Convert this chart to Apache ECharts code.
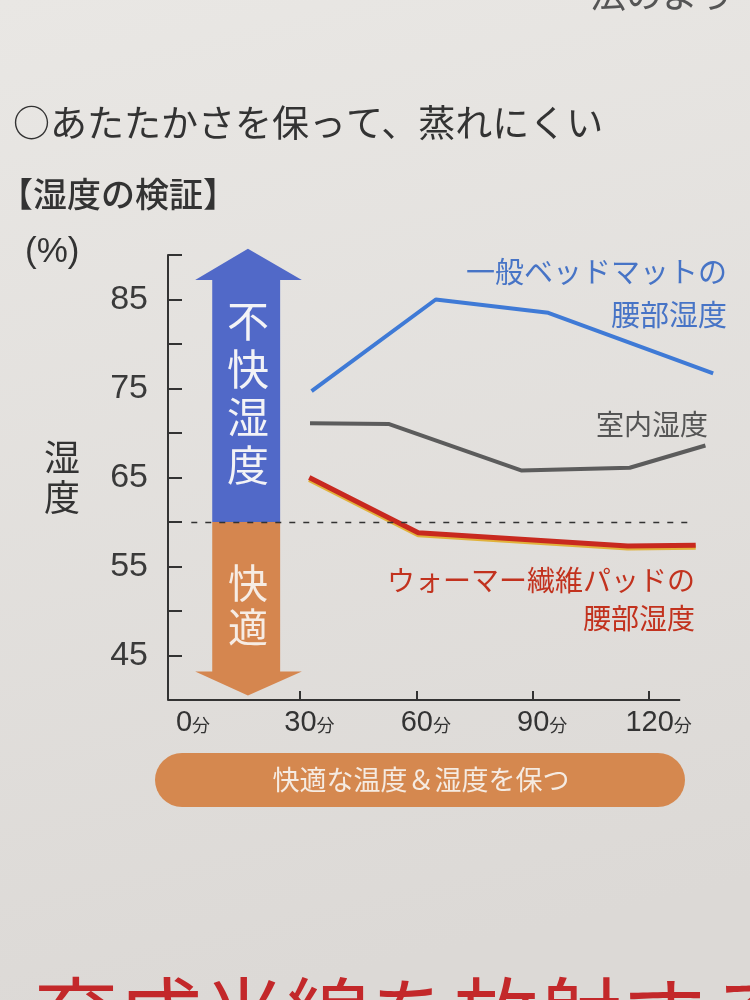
<!DOCTYPE html>
<html>
<head>
<meta charset="utf-8">
<script src="https://cdn.jsdelivr.net/npm/echarts@6/dist/echarts.min.js"></script>
<style>
html,body{margin:0;padding:0;background:#e4e2df;}
#chart{width:750px;height:1000px;}
</style>
</head>
<body>
<div id="chart"></div>
<script>
// ---- data (minutes, humidity %) ----
const bedMat = [[33, 74.7], [65, 85.0], [94, 83.5], [136.5, 76.7]];
const roomHumidity = [[32.6, 71.1], [53, 71.0], [87, 65.8], [115, 66.1], [134.5, 68.6]];
const warmerPad = [[32.4, 65.0], [60.5, 58.8], [114.5, 57.3], [132, 57.4]];
const comfortLine = 60;
const xTickLabels = [0, 30, 60, 90, 120];
const xTickMarks = [30, 60, 90, 120];
const yTickLabels = [45, 55, 65, 75, 85];
const xAxisEnd = 128;
// comfort arrow extents in data units: head left, shaft left, centre, shaft right, head right
const arrowX = [3.0, 7.4, 16.6, 24.9, 30.5];
// bottom tip, bottom head base, split, top head base, top tip
const arrowY = [40.5, 43.2, 60, 87.2, 90.7];

const FONT = '"Noto Sans CJK JP", "Noto Sans", sans-serif';
const NUMFONT = '"Liberation Sans", Arial, sans-serif';

const chart = echarts.init(document.getElementById('chart'));

const option = {
  backgroundColor: {
    type: 'linear', x: 0, y: 0, x2: 0.3, y2: 1,
    colorStops: [{offset: 0, color: '#e9e7e4'}, {offset: 1, color: '#dcd9d6'}]
  },
  animation: false,
  grid: {left: 168, top: 255, width: 551, height: 445},
  xAxis: {
    type: 'value', min: -4, max: 138,
    axisLine: {show: false, onZero: false},
    splitLine: {show: false},
    axisTick: {show: true, inside: true, length: 9, lineStyle: {color: '#333', width: 2}, customValues: xTickMarks},
    axisLabel: {
      customValues: xTickLabels, margin: 8, padding: [0, 0, 0, 19],
      formatter: v => '{n|' + v + '}{u|分}',
      rich: {
        n: {fontFamily: NUMFONT, fontSize: 29, color: '#333'},
        u: {fontFamily: FONT, fontSize: 18, color: '#333', padding: [6, 0, 0, 0]}
      }
    }
  },
  yAxis: {
    type: 'value', min: 40, max: 90, interval: 5,
    name: '湿\n度', nameLocation: 'middle', nameRotate: 0, nameGap: 106,
    nameTextStyle: {fontFamily: FONT, fontSize: 36, color: '#333', lineHeight: 40, align: 'center'},
    axisLine: {show: true, onZero: false, lineStyle: {color: '#333', width: 2}},
    splitLine: {show: false},
    axisTick: {show: true, inside: true, length: 14, lineStyle: {color: '#333', width: 2}},
    axisLabel: {customValues: yTickLabels, margin: 20, fontFamily: NUMFONT, fontSize: 34, color: '#3a3a3a'}
  },
  series: [
    {
      type: 'custom', coordinateSystem: 'cartesian2d', clip: false, z: 1, silent: true,
      data: [[arrowX[2], comfortLine]],
      renderItem: function (params, api) {
        const p = v => api.coord(v);
        const [hx0, sx0, cx, sx1, hx1] = arrowX;
        const [tipB, baseB, split, baseT, tipT] = arrowY;
        const top = [p([cx, tipT]), p([hx1, baseT]), p([sx1, baseT]), p([sx1, split]), p([sx0, split]), p([sx0, baseT]), p([hx0, baseT])];
        const bot = [p([sx0, split]), p([sx1, split]), p([sx1, baseB]), p([hx1, baseB]), p([cx, tipB]), p([hx0, baseB]), p([sx0, baseB])];
        const t1 = p([cx, 74.5]);
        const t2 = p([cx, 50.7]);
        return {
          type: 'group', children: [
            {type: 'polygon', shape: {points: top}, style: {fill: '#5169c8'}},
            {type: 'polygon', shape: {points: bot}, style: {fill: '#d5864f'}},
            {type: 'text', style: {text: '不\n快\n湿\n度', x: t1[0], y: t1[1], fill: '#f3f3f6', font: '42px ' + FONT, lineHeight: 48, align: 'center', verticalAlign: 'middle'}},
            {type: 'text', style: {text: '快\n適', x: t2[0], y: t2[1], fill: '#f6ece4', font: '40px ' + FONT, lineHeight: 44, align: 'center', verticalAlign: 'middle'}}
          ]
        };
      }
    },
    {
      name: '一般ベッドマットの腰部湿度', type: 'line', data: bedMat, showSymbol: false, z: 3,
      lineStyle: {color: '#3f7ad6', width: 4}
    },
    {
      name: '室内湿度', type: 'line', data: roomHumidity, showSymbol: false, z: 3,
      lineStyle: {color: '#5c5c5c', width: 4}
    },
    {
      name: 'ウォーマー繊維パッドの腰部湿度', type: 'line', data: warmerPad, showSymbol: false, z: 4,
      lineStyle: {color: '#c8291f', width: 5, shadowColor: 'rgba(225,170,30,0.85)', shadowOffsetY: 2, shadowBlur: 0},
      markLine: {
        silent: true, symbol: 'none', label: {show: false},
        lineStyle: {color: '#333', width: 1.3, type: [6, 8]},
        data: [
          [{coord: [2, comfortLine]}, {coord: [130, comfortLine]}],
          [{coord: [-4, 40], lineStyle: {type: 'solid', width: 2, color: '#333'}}, {coord: [xAxisEnd, 40]}]
        ]
      }
    }
  ],
  graphic: [
    {type: 'text', style: {x: 590, y: -24, text: '法のよう', font: '36px ' + FONT, fill: '#555'}},
    {type: 'text', style: {x: 13, y: 104, text: '○あたたかさを保って、蒸れにくい', font: '37px ' + FONT, fill: '#333'}},
    {type: 'text', style: {x: -1, y: 177, text: '【湿度の検証】', font: '500 34px ' + FONT, fill: '#333'}},
    {type: 'text', style: {x: 25, y: 235, text: '(%)', font: '35px ' + NUMFONT, fill: '#333'}},
    {type: 'text', style: {x: 727, y: 250, text: '一般ベッドマットの\n腰部湿度', font: '29px ' + FONT, lineHeight: 43, fill: '#4774c6', align: 'right'}},
    {type: 'text', style: {x: 708, y: 410, text: '室内湿度', font: '28px ' + FONT, fill: '#555', align: 'right'}},
    {type: 'text', style: {x: 695, y: 561, text: 'ウォーマー繊維パッドの\n腰部湿度', font: '28px ' + FONT, lineHeight: 38, fill: '#c2321e', align: 'right'}},
    {type: 'rect', shape: {x: 155, y: 753, width: 530, height: 54, r: 27}, style: {fill: '#d5884f'}},
    {type: 'text', style: {x: 421, y: 780, text: '快適な温度＆湿度を保つ', font: '27px ' + FONT, fill: '#f5ebe2', align: 'center', verticalAlign: 'middle'}},
    {type: 'text', style: {x: 34, y: 974, text: '育成光線を放射する', font: '84px ' + FONT, fill: '#c3282a'}}
  ]
};
chart.setOption(option);
</script>
</body>
</html>
